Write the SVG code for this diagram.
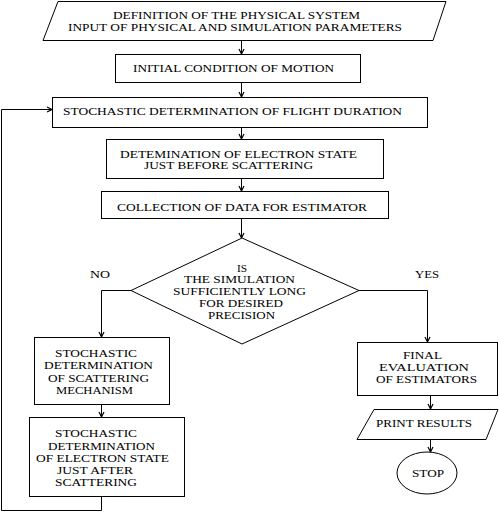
<svg xmlns="http://www.w3.org/2000/svg" width="499" height="512" viewBox="0 0 499 512">
<style>
.n{fill:#fff;stroke:#000;stroke-width:1}
.c{fill:none;stroke:#000;stroke-width:1}
.t{font-family:"Liberation Serif","DejaVu Serif","Times New Roman",serif;font-size:11px;fill:#000}
</style>
<defs>
<marker id="ah" markerUnits="userSpaceOnUse" markerWidth="10" markerHeight="10" refX="0" refY="0" viewBox="-6 -5 7 10" orient="auto">
<path d="M-5,-2.5 L0,0 L-5,2.5" fill="none" stroke="#000" stroke-width="1.2"/>
</marker>
</defs>
<rect width="499" height="512" fill="#fff"/>
<g id="connectors">
<path class="c" d="M241.5,40 V54" marker-end="url(#ah)"/>
<path class="c" d="M241.5,82 V97" marker-end="url(#ah)"/>
<path class="c" d="M241.5,127 V139" marker-end="url(#ah)"/>
<path class="c" d="M241.5,178 V191" marker-end="url(#ah)"/>
<path class="c" d="M241.5,218 V238" marker-end="url(#ah)"/>
<path class="c" d="M131,290.5 H101.5 V337" marker-end="url(#ah)"/>
<path class="c" d="M359,290.5 H427.5 V342" marker-end="url(#ah)"/>
<path class="c" d="M101.5,404 V417" marker-end="url(#ah)"/>
<path class="c" d="M101.5,496 V510.5 H1.5 V109.5 H52" marker-end="url(#ah)"/>
<path class="c" d="M430.5,395 V409" marker-end="url(#ah)"/>
<path class="c" d="M430.5,439 V452" marker-end="url(#ah)"/>
</g>
<g class="t" font-family="Liberation Serif, DejaVu Serif, serif">
<g id="input">
<polygon class="n" points="58,1.5 446,1.5 433,40.5 43,40.5"/>
<text x="113" y="19" textLength="247" lengthAdjust="spacingAndGlyphs">DEFINITION OF THE PHYSICAL SYSTEM</text>
<text x="68" y="31" textLength="334" lengthAdjust="spacingAndGlyphs">INPUT OF PHYSICAL AND SIMULATION PARAMETERS</text>
</g>
<g id="initial">
<rect class="n" x="115.5" y="54.5" width="245" height="28"/>
<text x="133" y="72" textLength="201" lengthAdjust="spacingAndGlyphs">INITIAL CONDITION OF MOTION</text>
</g>
<g id="flight">
<rect class="n" x="52.5" y="97.5" width="375" height="30"/>
<text x="63" y="115" textLength="339" lengthAdjust="spacingAndGlyphs">STOCHASTIC DETERMINATION OF FLIGHT DURATION</text>
</g>
<g id="before">
<rect class="n" x="106.5" y="139.5" width="277" height="39"/>
<text x="120" y="158" textLength="237" lengthAdjust="spacingAndGlyphs">DETEMINATION OF ELECTRON STATE</text>
<text x="144" y="169" textLength="169" lengthAdjust="spacingAndGlyphs">JUST BEFORE SCATTERING</text>
</g>
<g id="collect">
<rect class="n" x="101.5" y="191.5" width="287" height="27"/>
<text x="117" y="211" textLength="250" lengthAdjust="spacingAndGlyphs">COLLECTION OF DATA FOR ESTIMATOR</text>
</g>
<g id="decision">
<polygon class="n" points="242,238 359,290.5 242,344 131,290.5"/>
<text x="237" y="272" textLength="10" lengthAdjust="spacingAndGlyphs">IS</text>
<text x="184" y="283" textLength="111" lengthAdjust="spacingAndGlyphs">THE SIMULATION</text>
<text x="173" y="295" textLength="133" lengthAdjust="spacingAndGlyphs">SUFFICIENTLY LONG</text>
<text x="199" y="307" textLength="84" lengthAdjust="spacingAndGlyphs">FOR DESIRED</text>
<text x="208" y="319" textLength="67" lengthAdjust="spacingAndGlyphs">PRECISION</text>
</g>
<g id="labels">
<text x="90" y="278" textLength="20" lengthAdjust="spacingAndGlyphs">NO</text>
<text x="415" y="278" textLength="24" lengthAdjust="spacingAndGlyphs">YES</text>
</g>
<g id="mechanism">
<rect class="n" x="34.5" y="337.5" width="135" height="67"/>
<text x="55" y="357" textLength="82" lengthAdjust="spacingAndGlyphs">STOCHASTIC</text>
<text x="44" y="369" textLength="109" lengthAdjust="spacingAndGlyphs">DETERMINATION</text>
<text x="48" y="382" textLength="101" lengthAdjust="spacingAndGlyphs">OF SCATTERING</text>
<text x="56" y="394" textLength="77" lengthAdjust="spacingAndGlyphs">MECHANISM</text>
</g>
<g id="after">
<rect class="n" x="29.5" y="417.5" width="155" height="79"/>
<text x="55" y="437" textLength="82" lengthAdjust="spacingAndGlyphs">STOCHASTIC</text>
<text x="48" y="450" textLength="107" lengthAdjust="spacingAndGlyphs">DETERMINATION</text>
<text x="36" y="462" textLength="133" lengthAdjust="spacingAndGlyphs">OF ELECTRON STATE</text>
<text x="57" y="474" textLength="76" lengthAdjust="spacingAndGlyphs">JUST AFTER</text>
<text x="55" y="486" textLength="82" lengthAdjust="spacingAndGlyphs">SCATTERING</text>
</g>
<g id="final">
<rect class="n" x="357.5" y="342.5" width="140" height="53"/>
<text x="403" y="359" textLength="39" lengthAdjust="spacingAndGlyphs">FINAL</text>
<text x="379" y="371" textLength="90" lengthAdjust="spacingAndGlyphs">EVALUATION</text>
<text x="376" y="383" textLength="101" lengthAdjust="spacingAndGlyphs">OF ESTIMATORS</text>
</g>
<g id="print">
<polygon class="n" points="374,409.5 498,409.5 486,439.5 357,439.5"/>
<text x="376" y="427" textLength="96" lengthAdjust="spacingAndGlyphs">PRINT RESULTS</text>
</g>
<g id="stop">
<ellipse class="n" cx="427" cy="473" rx="30" ry="21"/>
<text x="412" y="477" textLength="32" lengthAdjust="spacingAndGlyphs">STOP</text>
</g>
</g>
</svg>
